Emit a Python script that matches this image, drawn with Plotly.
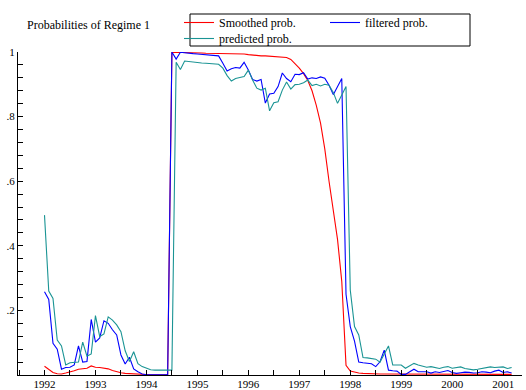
import plotly.graph_objects as go

# monthly observations, 1992:1 .. 2001:3
start_year = 1992
n_obs = 111
months = [start_year + i / 12 for i in range(n_obs)]

smoothed = [
    0.027, 0.017, 0.008, 0.004, 0.003, 0.006, 0.009, 0.013, 0.018, 0.019,
    0.021, 0.028, 0.024, 0.023, 0.022, 0.019, 0.014, 0.010, 0.007, 0.005,
    0.004, 0.003, 0.002, 0.001, 0.001, 0.001, 0.001, 0.001, 0.001, 0.001,
    0.999, 0.999, 0.998, 0.998, 0.998, 0.997, 0.997, 0.997, 0.996, 0.996,
    0.996, 0.995, 0.995, 0.995, 0.995, 0.995, 0.995,
    0.994, 0.992, 0.990, 0.989, 0.988, 0.988, 0.987, 0.987, 0.987, 0.986,
    0.983, 0.977, 0.965, 0.950, 0.933, 0.912, 0.880, 0.835, 0.780, 0.700,
    0.600, 0.510, 0.420, 0.290, 0.030,
    0.012, 0.008, 0.006, 0.005, 0.004, 0.004, 0.004, 0.003, 0.003, 0.003,
    0.002, 0.002, 0.002, 0.002, 0.002, 0.002, 0.002, 0.002, 0.002, 0.002,
    0.002, 0.002, 0.002, 0.002, 0.002, 0.002, 0.002, 0.002, 0.002, 0.002,
    0.002, 0.002, 0.002, 0.002, 0.002, 0.002, 0.002, 0.002, 0.002,
]

filtered = [
    0.258, 0.234, 0.098, 0.080, 0.018, 0.023, 0.024, 0.031, 0.090, 0.040,
    0.042, 0.172, 0.102, 0.115, 0.168, 0.160, 0.140, 0.124, 0.062, 0.034,
    0.055, 0.019, 0.010, 0.003, 0.001, 0.001, 0.001, 0.001, 0.001, 0.001,
    1.000, 0.978, 0.999, 0.997, 0.996, 0.995, 0.994, 0.993, 0.992, 0.991,
    0.990, 0.988, 0.965, 0.941, 0.948, 0.952, 0.950, 0.968, 0.944, 0.915,
    0.910, 0.915, 0.842, 0.870, 0.872, 0.893, 0.935, 0.918, 0.908, 0.931,
    0.930, 0.936, 0.916, 0.920, 0.918, 0.923, 0.919, 0.897, 0.868, 0.891,
    0.918,
    0.250, 0.150, 0.105, 0.040, 0.038, 0.037, 0.035, 0.026, 0.041, 0.077,
    0.015, 0.013, 0.012, 0.002, 0.002, 0.010, 0.018, 0.010, 0.009, 0.010,
    0.006, 0.010, 0.008, 0.012, 0.014, 0.008, 0.005, 0.007, 0.009, 0.008,
    0.006, 0.007, 0.010, 0.009, 0.007, 0.012, 0.015, 0.008, 0.010, 0.006,
]

predicted = [
    0.495, 0.260, 0.237, 0.108, 0.090, 0.031, 0.038, 0.038, 0.040, 0.102,
    0.058, 0.065, 0.184, 0.119, 0.127, 0.180, 0.170, 0.155, 0.134, 0.075,
    0.042, 0.072, 0.035, 0.026, 0.020, 0.016, 0.015, 0.015, 0.015, 0.015,
    0.015,
    0.968, 0.946, 0.972, 0.970, 0.968, 0.967, 0.966, 0.965, 0.964, 0.963,
    0.962, 0.950, 0.927, 0.910, 0.918, 0.921, 0.924, 0.944, 0.913, 0.888,
    0.882, 0.888, 0.818, 0.843, 0.846, 0.882, 0.907, 0.885, 0.899, 0.900,
    0.905, 0.913, 0.896, 0.900, 0.895, 0.900, 0.897, 0.875, 0.841, 0.867,
    0.893,
    0.263, 0.150, 0.124, 0.054, 0.053, 0.052, 0.049, 0.040, 0.065, 0.090,
    0.031, 0.031, 0.031, 0.021, 0.028, 0.036, 0.031, 0.028, 0.024,
    0.026, 0.022, 0.020, 0.024, 0.026, 0.021, 0.022, 0.025, 0.020, 0.017,
    0.016, 0.018, 0.021, 0.024, 0.025, 0.023, 0.024, 0.025, 0.020, 0.023,
]

series_names = ["Smoothed prob.", "filtered prob.", "predicted prob."]
series_colors = ["#ff0000", "#0000ff", "#1a9494"]

y_tick_vals = [0.2, 0.4, 0.6, 0.8, 1.0]
y_tick_text = [".2", ".4", ".6", ".8", "1"]

FONT = "Liberation Serif, Times New Roman, serif"

fig = go.Figure()
for name, ys, col, lg in zip(series_names, [smoothed, filtered, predicted],
                             series_colors, ["legend", "legend", "legend2"]):
    fig.add_trace(go.Scatter(x=months, y=ys, mode="lines", name=name,
                             line=dict(color=col, width=1.1), legend=lg,
                             cliponaxis=False))

W, H = 526, 390
ml, mr, mt, mb = 18, 4, 52, 15
pw, ph = W - ml - mr, H - mt - mb


def px_x(p):
    return (p - ml) / pw


def px_y(p):
    return (H - mb - p) / ph


fig.update_layout(
    width=W, height=H,
    margin=dict(l=ml, r=mr, t=mt, b=mb, autoexpand=False),
    paper_bgcolor="white", plot_bgcolor="white",
    font=dict(family=FONT, size=12, color="black"),
    title=dict(text="Probabilities of Regime 1", x=27 / W, xanchor="left",
               y=1 - 25 / H, yanchor="middle",
               font=dict(family=FONT, size=12, color="black")),
    legend=dict(orientation="h", x=px_x(179), y=px_y(8), xanchor="left",
                yanchor="top", bgcolor="rgba(0,0,0,0)", borderwidth=0,
                entrywidth=101, itemwidth=30, tracegroupgap=0,
                font=dict(family=FONT, size=12, color="black")),
    legend2=dict(orientation="h", x=px_x(179), y=px_y(24), xanchor="left",
                 yanchor="top", bgcolor="rgba(0,0,0,0)", borderwidth=0,
                 itemwidth=30,
                 font=dict(family=FONT, size=12, color="black")),
    shapes=[dict(type="rect", xref="paper", yref="paper",
                 x0=px_x(190), x1=px_x(470), y0=px_y(46), y1=px_y(14),
                 line=dict(color="black", width=1))],
    showlegend=True,
)

fig.update_xaxes(
    range=[1991.48, 2001.37], tickmode="linear", tick0=1992, dtick=1,
    tickformat="d", ticks="inside", ticklen=5, tickcolor="black",
    minor=dict(dtick=0.5, tick0=1992, ticks="inside", ticklen=5, tickcolor="black"),
    showline=True, linecolor="black", linewidth=1,
    showgrid=False, zeroline=False, ticklabelstandoff=-1,
    tickfont=dict(family=FONT, size=11, color="black"),
)
fig.update_yaxes(
    range=[0, 1], tickmode="array", tickvals=y_tick_vals, ticktext=y_tick_text,
    ticks="inside", ticklen=5, tickcolor="black",
    minor=dict(dtick=0.04, tick0=0, ticks="inside", ticklen=5, tickcolor="black"),
    showline=True, linecolor="black", linewidth=1,
    showgrid=False, zeroline=False,
    tickfont=dict(family=FONT, size=11, color="black"),
)

fig.write_html("out.html", config={"displayModeBar": False},
               post_script="document.body.style.margin='0';"
                           "document.body.style.overflow='hidden';")
